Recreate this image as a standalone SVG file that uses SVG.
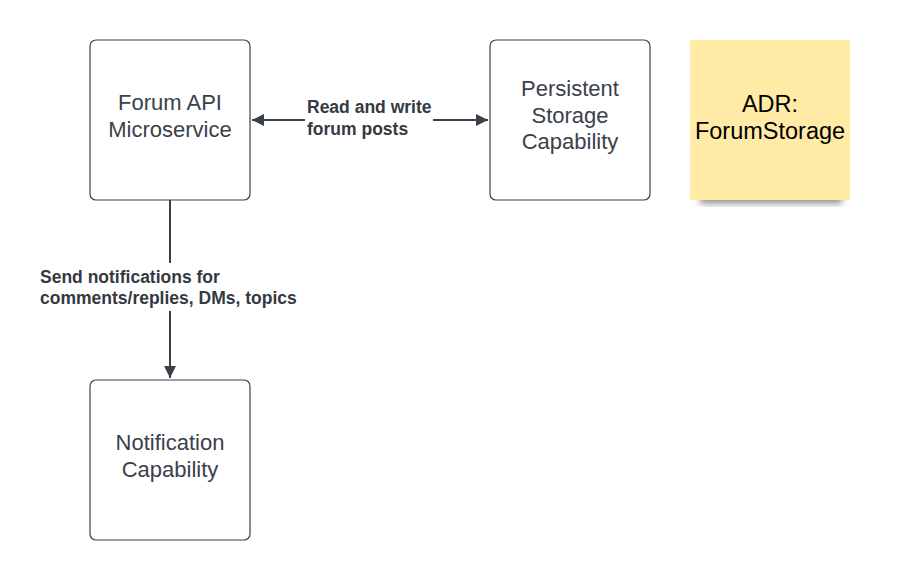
<svg xmlns="http://www.w3.org/2000/svg" width="910" height="580" viewBox="0 0 910 580">
<style>
.box{fill:#fff;stroke:#3a414a;stroke-width:1.2}
.nt{font-family:"Liberation Sans",Arial,sans-serif;font-size:22px;fill:#3a414a;text-anchor:middle}
.lbl{font-family:"Liberation Sans",Arial,sans-serif;font-size:17.5px;font-weight:bold;fill:#333a42}
.ln{stroke:#3a414a;stroke-width:2;fill:none}
.adr{font-family:"Liberation Sans",Arial,sans-serif;font-size:23.5px;fill:#000;text-anchor:middle}
</style>
<defs>
<marker id="ah" viewBox="0 0 12 12" refX="12" refY="6" markerWidth="12" markerHeight="12" markerUnits="userSpaceOnUse" orient="auto-start-reverse">
<path d="M0,0 L12,6 L0,12 z" fill="#3a414a"/>
</marker>
<filter id="sh" x="-10%" y="-10%" width="120%" height="130%">
<feGaussianBlur stdDeviation="3"/>
</filter>
</defs>
<rect width="910" height="580" fill="#fff"/>
<g id="connectors">
<line class="ln" x1="252" y1="120" x2="305" y2="120" marker-start="url(#ah)"/>
<line class="ln" x1="433" y1="120" x2="488" y2="120" marker-end="url(#ah)"/>
<text class="lbl" x="307" y="113">Read and write</text>
<text class="lbl" x="307" y="135">forum posts</text>
<line class="ln" x1="170" y1="200" x2="170" y2="263"/>
<line class="ln" x1="170" y1="311" x2="170" y2="378" marker-end="url(#ah)"/>
<text class="lbl" x="40" y="283">Send notifications for</text>
<text class="lbl" x="40" y="304">comments/replies, DMs, topics</text>
</g>
<g id="forum-api">
<rect class="box" x="90" y="40" width="160" height="160" rx="6"/>
<text class="nt" x="170" y="110">Forum API</text>
<text class="nt" x="170" y="137">Microservice</text>
</g>
<g id="persistent-storage">
<rect class="box" x="490" y="40" width="160" height="160" rx="6"/>
<text class="nt" x="570" y="96">Persistent</text>
<text class="nt" x="570" y="123">Storage</text>
<text class="nt" x="570" y="149">Capability</text>
</g>
<g id="notification">
<rect class="box" x="90" y="380" width="160" height="160" rx="6"/>
<text class="nt" x="170" y="450">Notification</text>
<text class="nt" x="170" y="477">Capability</text>
</g>
<g id="adr">
<rect x="700" y="190" width="142" height="14" fill="#9a9a9a" filter="url(#sh)"/>
<rect x="690" y="40" width="160" height="160" fill="#ffeaa6"/>
<text class="adr" x="770" y="112">ADR:</text>
<text class="adr" x="770" y="139">ForumStorage</text>
</g>
</svg>
